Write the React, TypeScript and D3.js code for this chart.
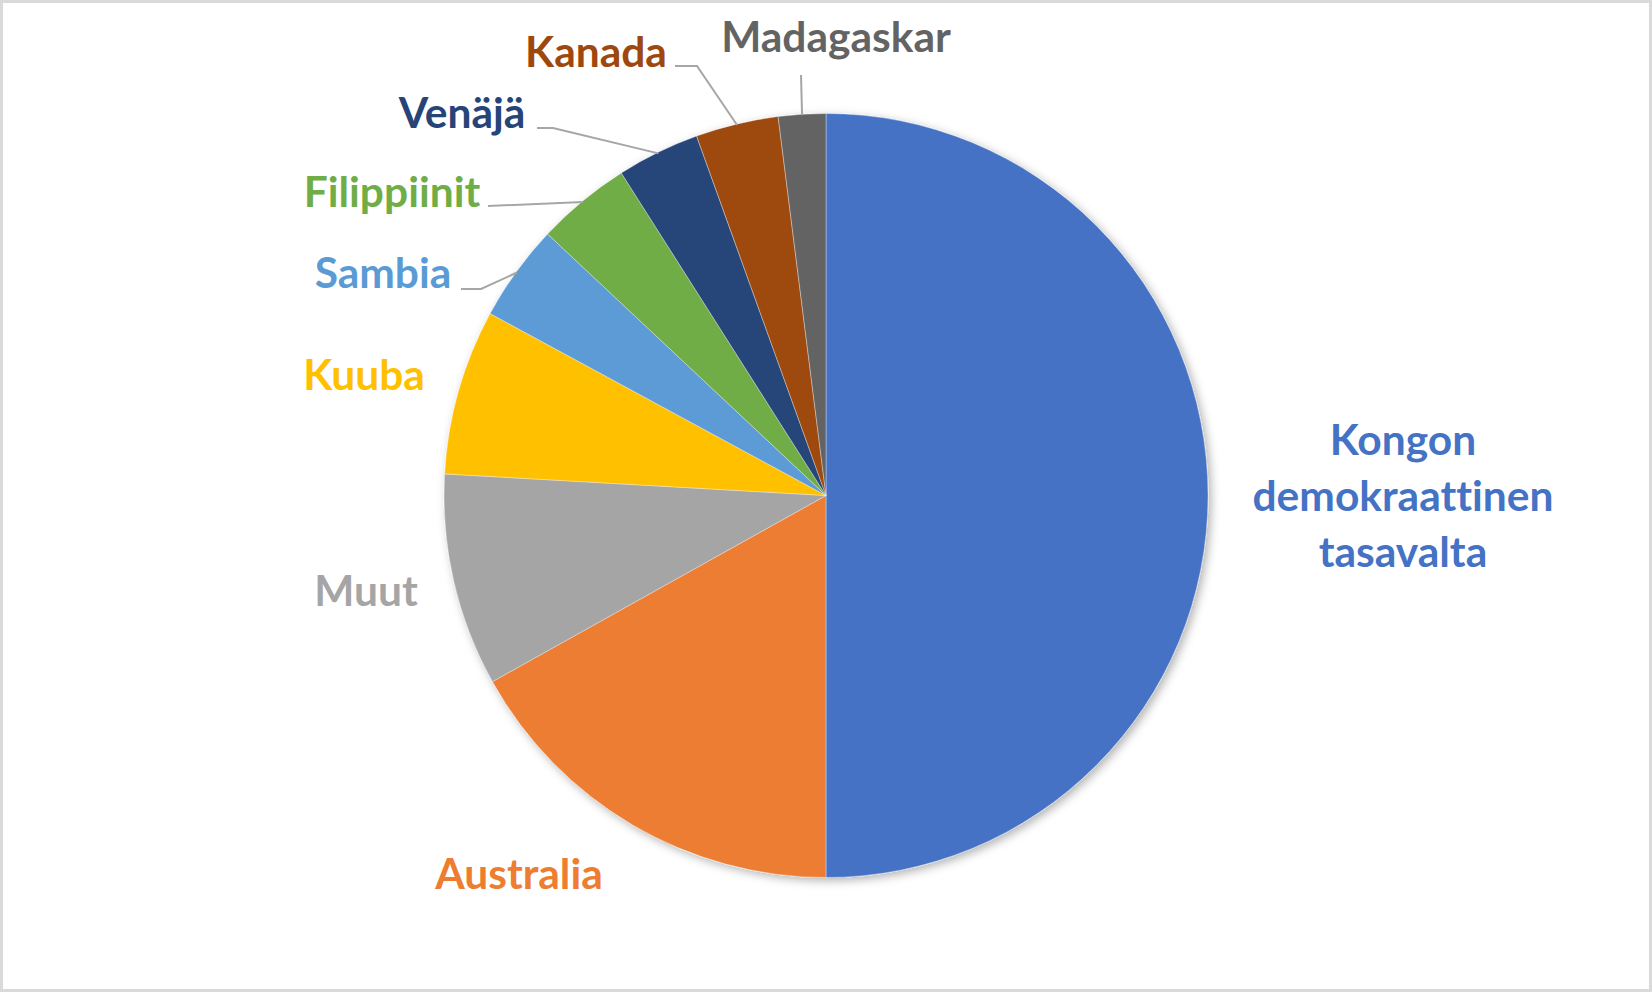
import * as d3 from "d3";

// Koboltin varannot, osuus (%)
const countries = [
  "Kongon demokraattinen tasavalta",
  "Australia",
  "Muut",
  "Kuuba",
  "Sambia",
  "Filippiinit",
  "Venäjä",
  "Kanada",
  "Madagaskar",
];
const shares = [50, 16.9, 9, 7, 4.1, 4, 3.5, 3.5, 2];
const colors = [
  "#4472C4",
  "#ED7D31",
  "#A5A5A5",
  "#FFC000",
  "#5B9BD5",
  "#70AD47",
  "#264478",
  "#9E480E",
  "#636363",
];

const W = 1652;
const H = 992;
const cx = 826;
const cy = 495.5;
const R = 382;

// label placement (centre x, baseline y) and leader line start points
const labelLayout: Record<string, { x: number; y: number; lines?: string[]; leader?: [number, number][] }> = {
  "Kongon demokraattinen tasavalta": { x: 1403, y: 455, lines: ["Kongon", "demokraattinen", "tasavalta"] },
  Australia: { x: 519, y: 889 },
  Muut: { x: 366, y: 606 },
  Kuuba: { x: 364, y: 390 },
  Sambia: { x: 383, y: 288, leader: [[461, 289], [481, 289]] },
  Filippiinit: { x: 392, y: 207, leader: [[488, 206]] },
  "Venäjä": { x: 462, y: 128, leader: [[537, 128], [553, 128]] },
  Kanada: { x: 596, y: 67, leader: [[675, 66], [697, 66]] },
  Madagaskar: { x: 836, y: 52, leader: [[801, 75]] },
};

export default function App() {
  const data = countries.map((name, i) => ({ name, value: shares[i], color: colors[i] }));
  const pie = d3.pie<(typeof data)[number]>().sort(null).value((d) => d.value);
  const arcs = pie(data);
  const arc = d3.arc<d3.PieArcDatum<(typeof data)[number]>>().innerRadius(0).outerRadius(R);
  const edge = d3.arc<d3.PieArcDatum<(typeof data)[number]>>().innerRadius(R - 1).outerRadius(R - 1);
  const line = d3.line();

  return (
    <div style={{ position: "fixed", left: 0, top: 0, width: W, height: H, background: "#fff" }}>
      <svg width={W} height={H} style={{ display: "block" }}>
        <defs>
          <filter id="shadow" x="-10%" y="-10%" width="120%" height="120%">
            <feDropShadow dx="3" dy="3" stdDeviation="5" floodColor="#000" floodOpacity="0.3" />
          </filter>
        </defs>
        <rect x={1.5} y={1.5} width={W - 3} height={H - 3} fill="#fff" stroke="#D9D9D9" strokeWidth={3} />
        <g transform={`translate(${cx},${cy})`}>
          <g filter="url(#shadow)">
            {arcs.map((a) => (
              <path key={a.data.name} d={arc(a) || ""} fill={a.data.color} stroke="#fff" strokeWidth={0.35} />
            ))}
          </g>
        </g>
        {arcs.map((a) => {
          const lay = labelLayout[a.data.name];
          if (!lay.leader) return null;
          const [ex, ey] = edge.centroid(a);
          const pts: [number, number][] = [...lay.leader, [cx + ex, cy + ey]];
          return (
            <path key={"l" + a.data.name} d={line(pts) || ""} fill="none" stroke="#A6A6A6" strokeWidth={2} />
          );
        })}
        {arcs.map((a) => {
          const lay = labelLayout[a.data.name];
          const lines = lay.lines || [a.data.name];
          return (
            <text
              key={"t" + a.data.name}
              x={lay.x}
              y={lay.y}
              textAnchor="middle"
              fill={a.data.color}
              fontFamily="Lato, 'Open Sans', sans-serif"
              fontWeight="bold"
              fontSize={42.5}
              style={{ fontVariantLigatures: "none" }}
            >
              {lines.map((s, i) => (
                <tspan key={s} x={lay.x} dy={i === 0 ? 0 : 56}>
                  {s}
                </tspan>
              ))}
            </text>
          );
        })}
      </svg>
    </div>
  );
}
